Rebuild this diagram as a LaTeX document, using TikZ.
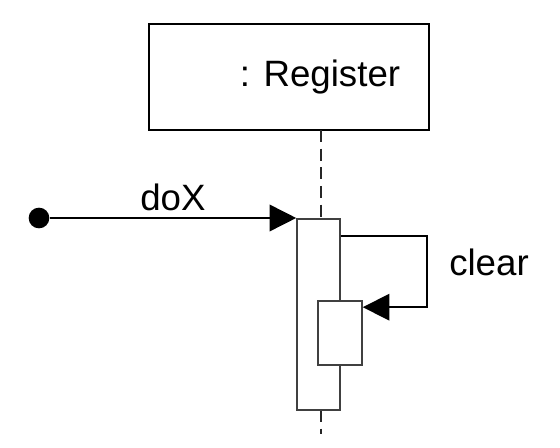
\documentclass[tikz,border=0pt]{standalone}
\usepackage{fontspec}
\setmainfont{Liberation Sans}
\usepackage{tikz}
\usetikzlibrary{arrows.meta,positioning}

\begin{document}
\begin{tikzpicture}[
            x=0.75pt, y=-0.75pt,
            >={Triangle[length=20pt,width=20pt]},
            obj_box/.style={draw, line width=1.2pt, minimum width=210pt, minimum height=79.5pt, inner sep=0pt},
            act_box/.style={draw=black!75, fill=white, line width=1.2pt, inner sep=0pt},
            life_line/.style={black!85, line width=1.2pt, dash pattern=on 9pt off 5pt},
            msg_style/.style={->, line width=1.2pt, black},
            lbl/.style={font=\fontsize{27.5}{33}\selectfont, inner sep=0pt}
        ]
        \useasboundingbox (0,0) rectangle (560,448);

        % Object box
        \node[obj_box] (reg) at (289,77) {};
        \node[lbl] (regname) at (320,77) {: Register};

        % Lifeline
        \coordinate (lifetop) at (321,130);
        \coordinate (lifebot) at (321,434);
        \draw[life_line] (lifetop) -- (lifebot);

        % Activations
        \node[act_box, minimum width=32.25pt, minimum height=143.25pt] (act) at (318.5,314.5) {};
        \node[act_box, minimum width=33pt, minimum height=48pt] (inner) at (340,333) {};

        % Incoming message
        \node[circle, fill=black, minimum size=15.5pt, inner sep=0pt] (start) at (39,218) {};
        \draw[msg_style] (start) -- (start -| act.west)
            node[midway, above=4.5pt, lbl] (dox) {doX};

        % Self call
        \draw[msg_style] ([yshift=-13.5pt]act.north east)
            -| ([xshift=48pt,yshift=-5.25pt]inner.north east)
            -- ([yshift=-5.25pt]inner.north east);
        \node[lbl] (clr) at (489,262) {clear};
        \end{tikzpicture}
\end{document}
